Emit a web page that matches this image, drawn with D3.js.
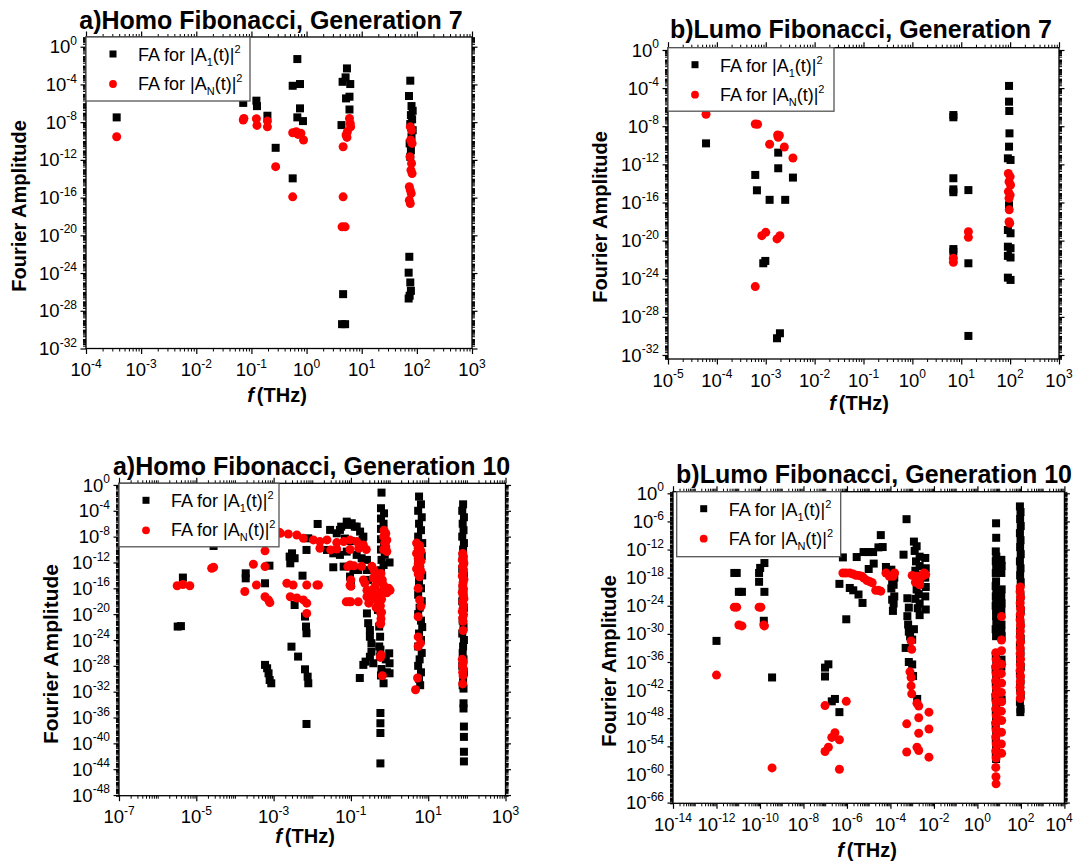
<!DOCTYPE html>
<html lang="en">
<head>
<meta charset="UTF-8">
<title>Fourier Amplitude - Fibonacci generations</title>
<script src="https://d3js.org/d3.v7.min.js"></script>
<style>
  body { margin: 0; background: #fff; }
  svg { display: block; font-family: "Liberation Sans", Arial, Helvetica, sans-serif; }
  .domain { display: none; }
</style>
</head>
<body>
<div id="chart"></div>
<script>
// ---------- data: [f (THz), Fourier amplitude] ----------
const homo7Black = [
  [3.6e-4,3.2e-8],[0.071,1.1e-6],[0.123,1.9e-6],[0.126,5e-7],[0.195,4.8e-8],[0.275,1.9e-11],[0.56,1.1e-14],
  [0.68,4.9e-2],[0.56,7.2e-5],[0.76,1.1e-4],[0.76,2.9e-7],[0.68,3.2e-8],[0.86,1.3e-8],
  [5.4,5e-3],[4.5,1.9e-4],[5.1,5.6e-4],[6.2,1.1e-4],[6.0,5e-6],[5.2,3.3e-6],[6.0,2.2e-7],[4.3,4.9e-9],
  [4.6,5.8e-27],[4.4,3.8e-30],[5.0,3.8e-30],
  [76,2.5e-4],[72,5.9e-6],[80,5.1e-7],[84,1.6e-7],[78,5.6e-8],[82,2e-8],[76,6.3e-9],[84,1.4e-9],[80,2.8e-10],
  [74,5.6e-11],[78,1.1e-11],[76,2.1e-12],[73,5.3e-23],[71,1.1e-24],[76,1e-25],[78,1.3e-26],[74,3.9e-27],[71,2e-27]
];
const homo7Red = [
  [3.6e-4,2.8e-10],[0.071,1.7e-8],[0.073,2.5e-8],[0.123,2.3e-8],[0.126,4.5e-9],[0.195,1.3e-8],[0.195,3.2e-9],
  [0.275,1.9e-13],[0.56,7.6e-10],[0.65,9.6e-10],[0.70,5e-10],[0.79,6.5e-10],[0.88,1.3e-10],[0.56,1.2e-16],
  [4.6,2.5e-11],[5.2,4.3e-10],[5.4,2.4e-10],[5.5,9.6e-10],[6.0,2.5e-8],[6.2,7.4e-9],[6.3,3.2e-9],
  [4.6,1.2e-16],[4.4,8e-20],[5.0,8e-20],
  [76,3.2e-9],[80,1.4e-9],[77,1.3e-10],[82,5.6e-11],[75,2.1e-12],[80,4.2e-13],[78,8.3e-14],[82,3.6e-14],
  [73,1.4e-15],[76,6.3e-16],[79,2.8e-16],[73,5.4e-17],[76,2.4e-17]
];

const lumo7Black = [
  [6e-5,1.6e-10],[6.1e-4,7.8e-14],[6.6e-4,1.9e-15],[1.2e-3,1.9e-16],[1.8e-3,1.7e-11],[1.8e-3,3.9e-13],
  [2.5e-3,1.9e-16],[3.6e-3,4.1e-14],[8.9e-4,4.2e-23],[9.8e-4,7.4e-23],[1.7e-3,5.7e-31],[1.95e-3,1.9e-30],
  [6.9,8.7e-8],[6.9,1.5e-7],[6.9,3.5e-14],[6.9,2.4e-15],[6.9,1.2e-15],[6.9,1.3e-21],[6.9,7e-22],
  [14,2e-15],[14,4.2e-23],[14,1e-30],
  [95,1.7e-4],[95,3.8e-6],[96,4e-7],[97,1.8e-9],[95,7.2e-11],[90,4.3e-12],[102,2.9e-12],[95,5.1e-17],
  [90,1.3e-19],[102,5.9e-20],[90,2.3e-21],[102,1.6e-21],[90,2.5e-22],[102,1.7e-22],[90,1.3e-24],[102,7.5e-25]
];
const lumo7Red = [
  [6e-5,1.8e-7],[6.1e-4,1.7e-8],[6.8e-4,1.6e-8],[1.2e-3,1.3e-10],[1.75e-3,1.2e-9],[1.8e-3,6.9e-10],[1.9e-3,1.1e-9],
  [2.4e-3,6.7e-11],[3.6e-3,4.7e-12],[8.3e-4,3.3e-20],[1e-3,7.4e-20],[1.7e-3,1.5e-20],[1.95e-3,3.3e-20],
  [6.1e-4,1.5e-25],[6.9,1.4e-22],[6.9,5.4e-23],[14,8.7e-20],[14,2.2e-20],
  [92,1.1e-13],[100,5.1e-14],[95,1.5e-14],[102,6.9e-15],[92,1.4e-15],[100,6.2e-16],[95,2.8e-16],
  [96,1.7e-17],[95,9.8e-19],[98,6.6e-19]
];

const homo10Black = [
  [3.3e-6,1.2e-22],[4e-6,1.4e-22],[4.5e-6,4.6e-15],[2.8e-5,3.6e-10],
  [1.9e-4,2.1e-14],[1.9e-4,3.5e-15],[6e-4,6e-16],[7.8e-4,3.2e-13],
  [6e-4,1.4e-28],[6.8e-4,4.2e-29],[7.4e-4,7e-30],[7.9e-4,6.5e-31],[8.7e-4,2e-31],
  [2.6e-3,8.1e-12],[2.7e-3,7.4e-13],[3.5e-3,4.5e-12],[3e-3,2.6e-11],
  [2.9e-3,9.3e-26],[4.3e-3,2.7e-27],[5.6e-3,9.1e-15],[3.5e-3,2.6e-19],
  [6.5e-3,4.2e-21],[6.9e-3,1.2e-22],[7.1e-3,1.1e-23],
  [6.5e-3,2.9e-29],[7.6e-3,2.1e-30],[7.9e-3,2e-31],[7.1e-3,1e-37],[7.1e-3,8.7e-11],[7.9e-3,5.5e-9],
  [0.0138,9.1e-7],[0.029,1.1e-7],[0.043,3.3e-8],[0.052,1.1e-7],[0.056,3.5e-7],[0.078,2.1e-6],[0.083,6.5e-7],
  [0.105,1.2e-6],[0.126,3.5e-7],[0.141,3.5e-7],[0.173,6e-8],[0.21,1e-8],[0.07,5e-9],[0.1,2e-9],[0.2,3e-9],
  [0.024,8.7e-11],[0.035,2.6e-11],[0.052,1.5e-11],[0.078,4.8e-11],[0.141,1.5e-11],[0.19,4.5e-12],[0.26,2.5e-12],
  [0.035,1.8e-13],[0.065,2.3e-13],[0.116,6.9e-14],[0.155,6.9e-14],[0.095,6.5e-15],[0.1,3.3e-16],
  [0.26,6.9e-14],[0.28,2e-15],[0.26,1.3e-20],[0.28,4e-22],[0.31,3.5e-23],[0.31,3.2e-24],[0.34,3.2e-25],
  [0.34,1.6e-26],[0.31,2.5e-27],[0.38,2.5e-28],[0.24,4.5e-28],[0.17,1.3e-30],[0.21,1.4e-28],
  [0.5,4.5e-20],[0.54,1.2e-22],[0.57,3.2e-24],[0.54,1e-25],[0.57,2.5e-27],
  [0.98,8.7e-27],[1.0,2.5e-28],[1.0,7e-30],[1.0,1e-12],
  [0.62,6.5e-2],[0.6,2.5e-4],[0.72,4e-5],[0.6,6.3e-6],[0.7,1e-6],[0.6,1.6e-7],[0.75,2.5e-8],[0.6,4e-9],
  [0.72,6.3e-10],[0.6,1e-10],[0.75,1.6e-11],[0.62,2.5e-12],[0.7,4e-13],[0.6,6.3e-14],
  [0.58,3.2e-26],[0.8,1e-27],[0.62,3.2e-29],[0.85,1e-29],[0.6,3.2e-30],[0.7,2e-31],
  [0.58,5e-36],[0.58,1.3e-37],[0.58,4e-39],[0.58,7.9e-44],
  [5.8,1.6e-2],[6.5,1e-3],[5.5,1e-4],[6.8,1e-5],[5.8,1e-6],[6.5,1e-7],[5.5,1e-8],[7.0,1e-9],[6.0,1e-10],
  [6.8,1e-11],[5.5,1e-12],[6.2,1e-13],[7.0,1e-14],[5.8,1e-15],[6.5,1e-16],[5.5,1e-17],[6.8,1e-18],[6.0,1e-19],
  [5.5,1e-20],[6.5,1e-21],[7.0,1e-22],[5.8,1e-23],[6.5,1e-24],[5.5,1e-25],[6.8,1e-26],[6.0,1e-27],[5.5,1e-28],
  [6.5,1e-29],[5.8,1e-30],[6.2,1e-31],
  [80,1e-3],[76,1e-4],[84,1e-5],[78,1e-6],[82,1e-7],[76,1e-8],[84,1e-9],[80,1e-10],[78,1e-11],[82,1e-12],
  [76,1e-13],[84,1e-14],[80,1e-15],[78,1e-16],[82,1e-17],[76,1e-18],[84,1e-19],[80,1e-20],[78,1e-21],[82,1e-22],
  [76,1e-23],[84,1e-24],[80,1e-25],[78,1e-26],[82,1e-27],[76,1e-28],[84,1e-29],[80,1e-30],[78,1e-31],[82,3e-32],
  [82,1.6e-34],[82,2.5e-35],[84,4e-38],[84,1e-39],[84,5e-42],[84,1.6e-43]
];
const homo10Red = [
  [3.2e-6,2.5e-16],[4.5e-6,3.9e-16],[6.8e-6,2.5e-16],[2.5e-5,1.3e-13],[2.8e-5,1.8e-13],
  [1.8e-4,3.2e-17],[3e-4,5.3e-13],[3.6e-4,3.3e-16],[6e-4,6.3e-11],[6e-4,2.3e-13],[6e-4,5e-18],[7.4e-4,1.5e-18],[8e-4,6e-19],
  [1.4e-3,4.7e-8],[1.5e-3,3.3e-8],[2.4e-3,2.6e-8],[4e-3,1.8e-8],[5.9e-3,5.5e-9],[0.0107,3.1e-9],[0.0158,1.7e-9],
  [0.024,3.1e-9],[0.043,1.2e-9],[0.065,1.7e-9],[0.095,3.1e-9],[0.141,1.7e-9],[0.21,5.1e-10],
  [0.0158,1.6e-10],[0.03,8.7e-11],[0.043,1.2e-10],[0.095,1e-10],[0.16,1.6e-10],[0.25,1e-10],
  [2.2e-3,6e-16],[3.2e-3,3.2e-16],[7.2e-3,3.2e-16],[0.0132,3.2e-16],[0.0145,3.3e-16],
  [2.7e-3,5e-18],[4e-3,3.2e-18],[5.9e-3,1.6e-18],[7.2e-3,5e-19],[7.2e-3,1.3e-20],
  [0.076,8e-19],[0.1,8e-19],[0.095,4e-13],[0.12,3e-13],[0.095,3e-16],[0.09,8e-19],[0.155,8e-19],
  [0.19,2.5e-13],[0.21,2e-15],[0.26,5e-17],[0.32,1e-17],[0.47,1.6e-18],
  [0.083,2.3e-13],[0.1,2e-15],[0.1,2e-16],[0.23,6e-16],[0.26,5e-18],[0.29,5e-19],
  [0.35,2.5e-13],[0.4,6e-14],[0.45,2e-14],[0.38,4e-15],[0.5,1e-15],[0.42,2e-16],[0.35,5e-17],[0.48,1e-17],
  [0.4,2e-18],[0.45,1e-19],[0.59,1.5e-18],[0.59,1.5e-20],[0.59,4e-22],
  [0.49,6e-15],[0.59,2e-15],[0.7,3e-16],
  [0.72,1e-7],[0.8,3e-8],[0.7,1e-8],[0.85,3e-9],[0.75,1e-9],[0.8,3e-10],[0.7,1e-10],[0.85,5e-11],
  [1.03,5e-17],[0.95,1e-16],[0.85,2e-17],
  [0.6,2e-14],[0.65,2e-15],[0.6,3e-17],[0.62,2e-18],[0.58,2e-19],[0.62,2e-20],[0.6,2e-21],[0.58,3e-22],
  [0.6,5e-27],[0.65,3e-30],[0.58,2e-27],
  [5,1e-9],[6,4e-10],[5.5,1.6e-10],[6.5,6e-11],[5,2.5e-11],[6,1e-11],[5.5,4e-12],[6.5,1.6e-12],[5.5,6e-13],
  [6,2.5e-13],[5,1e-13],[6.5,4e-14],[5.5,1.6e-14],[6,6e-15],[5.5,1e-16],[6,1.6e-18],[6.5,1.6e-19],[5.5,4e-21],
  [5.5,3e-24],[6.3,3e-25],[5.5,1e-25],[5.3,1.3e-30],[4.7,2e-32],
  [78,2.5e-11],[82,8e-12],[76,2.5e-12],[84,8e-13],[78,2.5e-13],[82,8e-14],[80,2.5e-14],[76,8e-15],[84,2.5e-15],
  [80,8e-16],[78,2.5e-16],[82,8e-17],[76,2.5e-17],[80,8e-18],[84,2.5e-18],[78,8e-19],[82,2.5e-19],[80,8e-20],
  [76,2.5e-20],[82,8e-21],[78,2.5e-21],[80,8e-22],[80,3e-23],
  [76,1e-27],[80,3e-28],[78,1e-28],[82,3e-29],[78,1e-29],[80,3e-30],[78,1.6e-31]
];

const lumo10Black = [
  [1e-12,3.2e-32],[6.6e-12,1e-17],[8.5e-12,1e-17],[1.07e-11,9.3e-22],[1.48e-11,9.3e-22],
  [9.1e-11,1e-17],[1.02e-10,1.2e-16],[1.6e-10,1.3e-15],[9.1e-11,1.3e-19],[1.6e-10,9.3e-22],[1.5e-10,6.3e-28],[3.6e-10,5e-40],
  [9.8e-8,6.3e-38],[1.4e-7,3.2e-37],[9.8e-8,8e-40],[2e-7,4e-45],[2.8e-7,1.3e-44],[4.5e-7,2e-47],
  [4.5e-7,4.7e-20],[6.5e-7,2.1e-14],[9.3e-7,1.3e-27],[1.35e-6,6.3e-21],[1.95e-6,2e-21],[2.8e-6,2.5e-14],
  [3.4e-6,2.5e-22],[5.2e-6,4e-24],[5.8e-6,2.9e-13],[1e-5,2.9e-13],[1.6e-5,2.9e-13],[1e-5,7e-17],[1.7e-5,1e-15],
  [2.8e-5,2.9e-12],[3.6e-5,1.2e-9],[4.4e-5,3.4e-12],[6.2e-5,1.9e-16],
  [1.1e-4,5e-17],[1.5e-4,1e-18],[1.2e-4,2e-19],[1.4e-4,3e-20],[1.1e-4,5e-21],[1.5e-4,1e-22],[1.2e-4,2e-23],[1.4e-4,3e-24],[1.3e-4,8e-26],
  [5.5e-4,3e-6],[4e-4,8e-14],
  [1.2e-3,5e-11],[1.6e-3,5e-12],[1.3e-3,5e-13],[2.2e-3,3e-14],[1.5e-3,3e-15],[2.2e-3,3e-16],[1.4e-3,3e-17],[2e-3,3e-18],
  [1.5e-3,3e-19],[2.2e-3,3e-20],[1.6e-3,3e-21],[2e-3,3e-22],[1.4e-3,3e-23],[2.2e-3,3e-24],[1.8e-3,3e-25],[2.2e-3,1e-26],
  [4e-3,1.6e-14],[4.2e-3,1e-16],[4e-3,1e-18],[4.2e-3,1e-20],[4e-3,1e-22],[4.2e-3,1.6e-25],
  [6e-4,4e-23],[7e-4,4e-25],[6e-4,6e-27],[6.5e-4,1e-28],[7e-4,3e-30],[8e-4,3e-31],[1.2e-3,1e-29],[1e-3,6e-32],
  [5e-4,1e-33],[7e-4,1e-36],[1e-3,3e-37],[1.1e-3,1e-39],[1.7e-3,1.3e-44],
  [7.2,4e-7],[7.3,3.2e-10],[7.0,4e-13],[7.4,3.2e-14],[7.0,3.2e-15],[7.3,3.2e-16],[7.0,1e-17],
  [7.2,1.6e-19],[6.9,1.6e-20],[7.4,1e-21],[7.0,1e-22],[7.3,1e-23],[6.9,1e-24],[7.2,1.6e-25],
  [7.2,6.3e-27],[7.4,3.2e-28],[6.9,1e-29],[7.2,3.2e-31],
  [7.0,2e-35],[7.4,1e-36],[6.9,3.2e-38],[7.3,1e-39],[7.0,3.2e-41],[7.2,1e-42],[6.8,3.2e-44],[7.4,1e-45],
  [7.0,3.2e-47],[7.2,1e-48],[6.9,3.2e-50],[7.3,1e-51],[7.0,3.2e-53],[7.2,1e-54],[7.0,3.2e-56],[7.2,2e-57],
  [12.6,6.3e-15],[13,3.2e-16],[12.6,1e-17],[13,3.2e-21],[12.5,1e-22],[13,3.2e-24],[12.6,1e-25],[12.8,1e-28],
  [12.6,3.2e-30],[13,3.2e-31],[12.8,3.2e-36],[12.6,1e-37],[13,1e-44],
  [90,1.6e-3],[96,1e-4],[92,3.2e-6],[98,1e-7],[90,3.2e-9],[96,1e-10],[92,3.2e-12],[98,1e-13],[90,3.2e-15],[96,1e-16],
  [92,3.2e-18],[98,1e-19],[90,3.2e-21],[96,1e-22],[92,3.2e-24],[98,1e-25],[90,3.2e-27],[96,1e-28],[92,3.2e-30],
  [98,1e-31],[90,3.2e-33],[96,1e-34],[92,3.2e-36],[98,1e-37],[90,3.2e-39],[96,1e-40],[92,3.2e-42],[98,1e-43],
  [90,3.2e-45],[96,1e-46],[94,2e-47]
];
const lumo10Red = [
  [1e-12,1.6e-39],[6.6e-12,5e-25],[8.5e-12,5e-25],[1.07e-11,8e-29],[1.48e-11,5e-29],
  [9.1e-11,5e-25],[1.1e-10,5e-25],[1.5e-10,8e-29],[1.6e-10,5e-29],[3.6e-10,2.5e-59],
  [9.8e-8,5e-46],[9.3e-7,4e-45],[9.8e-8,8e-56],[1.4e-7,6.3e-55],[2e-7,8e-53],[2.8e-7,8e-52],[4.5e-7,2.5e-53],[4.5e-7,1.3e-59],
  [6.5e-7,1e-17],[9e-7,1e-17],[1.35e-6,1e-17],[1.9e-6,6e-18],[2.6e-6,3.2e-18],[3.5e-6,3e-18],[4.8e-6,2e-18],
  [6e-6,8e-19],[8.3e-6,2.5e-19],[1.1e-5,1.5e-19],[1.45e-5,8e-20],[2.1e-5,2e-21],[2.8e-5,2e-21],[3.6e-5,1.3e-21],
  [6.2e-5,1e-17],[8.9e-5,2e-18],[1.3e-4,2e-18],[1.55e-4,1e-17],
  [1e-3,3e-18],[1.4e-3,1e-19],[1.66e-3,2e-18],[1.8e-3,5e-19],[2e-3,1.6e-19],[2.2e-3,3e-20],[2.3e-3,8e-19],
  [2.9e-3,2e-18],[3.5e-3,1e-17],[4.2e-3,4.5e-18],
  [8.9e-4,3.2e-32],[9.5e-4,5e-34],[7.9e-4,7.9e-39],[8.9e-4,5e-40],[8.9e-4,7.9e-42],[9.5e-4,1.6e-43],
  [1.66e-3,1.6e-45],[2e-3,4e-46],[2e-3,1.3e-48],[2e-3,6.3e-52],[1.66e-3,6.3e-55],[2e-3,1.3e-55],
  [5.9e-3,2e-47],[5.9e-3,5e-51],[5.9e-3,5e-57],[5.6e-4,6.3e-50],[5.6e-4,6.3e-56],
  [7.0,1e-34],[7.3,3.2e-36],[6.9,1e-37],[7.2,3.2e-39],[7.0,1e-40],[7.4,3.2e-42],[6.9,1e-43],[7.2,3.2e-45],
  [7.0,1e-46],[7.3,3.2e-48],[6.9,1e-49],[7.2,3.2e-51],[7.0,1e-52],[7.3,3.2e-54],[7.0,1e-55],[7.2,3.2e-57],
  [7.0,3.2e-59],[7.1,3.2e-61],[7.2,1e-62],
  [12.8,5e-27],[12.8,5e-32],[12.8,2.5e-34],[13,3.2e-37],[12.6,3.2e-39],[13,3.2e-41],[12.6,3.2e-43],
  [13,3.2e-45],[12.6,3.2e-47],[13,3.2e-49],[12.8,1e-51],[12.6,3.2e-54],[13,3.2e-56],
  [94,1e-20],[92,1e-21],[96,6.3e-23],[92,4e-24],[96,2.5e-25],[94,1.6e-26],[92,1e-27],[96,6.3e-29],[94,4e-30],
  [92,2.5e-31],[96,1.6e-32],[94,1e-33],[92,6.3e-35],[96,4e-36],[94,2.5e-37],[92,1.6e-38],[96,1e-39],[94,6.3e-41],
  [92,4e-42],[96,2.5e-43],[94,1.6e-44]
];

// ---------- panel layout ----------
const panels = [
  { title: "a)Homo Fibonacci, Generation 7", box: [86, 472, 37, 348.5], xExp: [-4, 3], xStep: 1,
    yDom: [1e-32, 10.7], yLabels: [0, -4, -8, -12, -16, -20, -24, -28, -32],
    titleAt: [271, 29], yTitleAt: [19, 206], yTitleSize: 20, xTitleAt: [277, 402],
    legend: [86, 37, 164, 64], black: homo7Black, red: homo7Red },
  { title: "b)Lumo Fibonacci, Generation 7", box: [668, 1059, 47.7, 359], xExp: [-5, 3], xStep: 1,
    yDom: [3.8e-33, 1.74], yLabels: [0, -4, -8, -12, -16, -20, -24, -28, -32],
    titleAt: [861, 38], yTitleAt: [600, 217], yTitleSize: 20, xTitleAt: [859, 410],
    legend: [668, 47.7, 166, 63.5], black: lumo7Black, red: lumo7Red },
  { title: "a)Homo Fibonacci, Generation 10", box: [119, 505.5, 483.3, 795.7], xExp: [-7, 3], xStep: 2,
    yDom: [7.9e-49, 1.8], yLabels: [0, -4, -8, -12, -16, -20, -24, -28, -32, -36, -40, -44, -48],
    titleAt: [311.6, 475], yTitleAt: [50, 654], yTitleSize: 21, xTitleAt: [305, 843],
    legend: [119, 483.3, 160, 63.5], black: homo10Black, red: homo10Red },
  { title: "b)Lumo Fibonacci, Generation 10", box: [673, 1064.4, 491.7, 803.3], xExp: [-14, 4], xStep: 2,
    yDom: [7e-67, 2.2], yLabels: [0, -6, -12, -18, -24, -30, -36, -42, -48, -54, -60, -66],
    titleAt: [874, 483], yTitleAt: [608.5, 661], yTitleSize: 20, xTitleAt: [867, 857],
    legend: [676.7, 491.7, 164, 65], black: lumo10Black, red: lumo10Red }
];

const W = 1074, H = 863;
const svg = d3.select("#chart").append("svg")
  .attr("width", W).attr("height", H);

function powLabel(sel, exp) {
  sel.append("tspan").attr("font-size", 18.5).text("10");
  sel.append("tspan").attr("font-size", 12).attr("dy", -8.5).text(exp);
}

panels.forEach(p => {
  const [L, R, T, B] = p.box;
  const g = svg.append("g");
  const x = d3.scaleLog().domain([10 ** p.xExp[0], 10 ** p.xExp[1]]).range([L, R]);
  const y = d3.scaleLog().domain(p.yDom).range([B, T]);

  // tick values
  const xMajor = [], xMinor = [];
  for (let e = p.xExp[0]; e <= p.xExp[1]; e++) {
    if ((e - p.xExp[0]) % p.xStep === 0) xMajor.push(10 ** e); else xMinor.push(10 ** e);
    if (e < p.xExp[1]) for (let m = 2; m <= 9; m++) xMinor.push(m * 10 ** e);
  }
  const yMajor = p.yLabels.map(e => 10 ** e);
  const yMinor = [];
  const e0 = Math.floor(Math.log10(p.yDom[0])), e1 = Math.ceil(Math.log10(p.yDom[1]));
  for (let e = e0; e <= e1; e++) {
    for (let m = 1; m <= 9; m++) {
      const v = m * 10 ** e;
      if (v < p.yDom[0] || v > p.yDom[1]) continue;
      if (m === 1 && p.yLabels.includes(e)) continue;
      yMinor.push(v);
    }
  }

  const axes = [
    [d3.axisBottom(x), `translate(0,${B})`, xMajor, xMinor],
    [d3.axisTop(x), `translate(0,${T})`, xMajor, xMinor],
    [d3.axisLeft(y), `translate(${L},0)`, yMajor, yMinor],
    [d3.axisRight(y), `translate(${R},0)`, yMajor, yMinor]
  ];
  axes.forEach(([ax, tr, maj, min]) => {
    g.append("g").attr("transform", tr)
      .call(ax.tickValues(min).tickSize(3).tickFormat(""))
      .selectAll("line").attr("stroke", "#000").attr("stroke-width", 1);
    g.append("g").attr("transform", tr)
      .call(ax.tickValues(maj).tickSize(5.5).tickFormat(""))
      .selectAll("line").attr("stroke", "#000").attr("stroke-width", 1.2);
  });

  // tick labels
  xMajor.forEach(v => {
    const t = g.append("text").attr("x", x(v)).attr("y", B + 27.5)
      .attr("text-anchor", "middle").attr("fill", "#000");
    powLabel(t, String(Math.round(Math.log10(v))));
    // keep a label at the page edge inside the picture
    const bb = t.node().getBBox();
    if (bb.x + bb.width > W - 1) t.attr("x", x(v) - (bb.x + bb.width - W + 1));
  });
  p.yLabels.forEach(e => {
    const t = g.append("text").attr("x", L - 9).attr("y", y(10 ** e) + 6.6)
      .attr("text-anchor", "end").attr("fill", "#000");
    powLabel(t, String(e));
  });

  // markers
  g.append("g").selectAll("rect").data(p.black).join("rect")
    .attr("x", d => x(d[0]) - 4).attr("y", d => y(d[1]) - 4)
    .attr("width", 8).attr("height", 8).attr("fill", "#000");
  g.append("g").selectAll("circle").data(p.red).join("circle")
    .attr("cx", d => x(d[0])).attr("cy", d => y(d[1])).attr("r", 4.5).attr("fill", "#ff0000");

  // frame
  g.append("rect").attr("x", L).attr("y", T).attr("width", R - L).attr("height", B - T)
    .attr("fill", "none").attr("stroke", "#000").attr("stroke-width", 1.3);

  // legend
  const [lx, ly, lw, lh] = p.legend;
  const lg = g.append("g");
  lg.append("rect").attr("x", lx).attr("y", ly).attr("width", lw).attr("height", lh)
    .attr("fill", "#fff").attr("stroke", "#555").attr("stroke-width", 1.3);
  lg.append("rect").attr("x", lx + 27 - 3.5).attr("y", ly + 17 - 3.5).attr("width", 7).attr("height", 7).attr("fill", "#000");
  lg.append("circle").attr("cx", lx + 27).attr("cy", ly + 47).attr("r", 3.9).attr("fill", "#ff0000");
  [["1", 24], ["N", 53]].forEach(([sub, dy]) => {
    const t = lg.append("text").attr("x", lx + 52).attr("y", ly + dy).attr("font-size", 18).attr("fill", "#000");
    t.append("tspan").text("FA for |A");
    t.append("tspan").attr("font-size", 11).attr("dy", 5).text(sub);
    t.append("tspan").attr("dy", -5).text("(t)|");
    t.append("tspan").attr("font-size", 11).attr("dy", -8).text("2");
  });

  // titles
  g.append("text").attr("x", p.titleAt[0]).attr("y", p.titleAt[1])
    .attr("text-anchor", "middle").attr("font-size", 25).attr("font-weight", "bold").text(p.title);
  g.append("text")
    .attr("transform", `translate(${p.yTitleAt[0]},${p.yTitleAt[1]}) rotate(-90)`)
    .attr("text-anchor", "middle").attr("dominant-baseline", "central")
    .attr("font-size", p.yTitleSize).attr("font-weight", "bold").text("Fourier Amplitude");
  const xt = g.append("text").attr("x", p.xTitleAt[0]).attr("y", p.xTitleAt[1])
    .attr("text-anchor", "middle").attr("font-size", 20).attr("font-weight", "bold");
  xt.append("tspan").attr("font-style", "italic").text("f");
  xt.append("tspan").attr("dx", 3).text("(THz)");
});
</script>
</body>
</html>
